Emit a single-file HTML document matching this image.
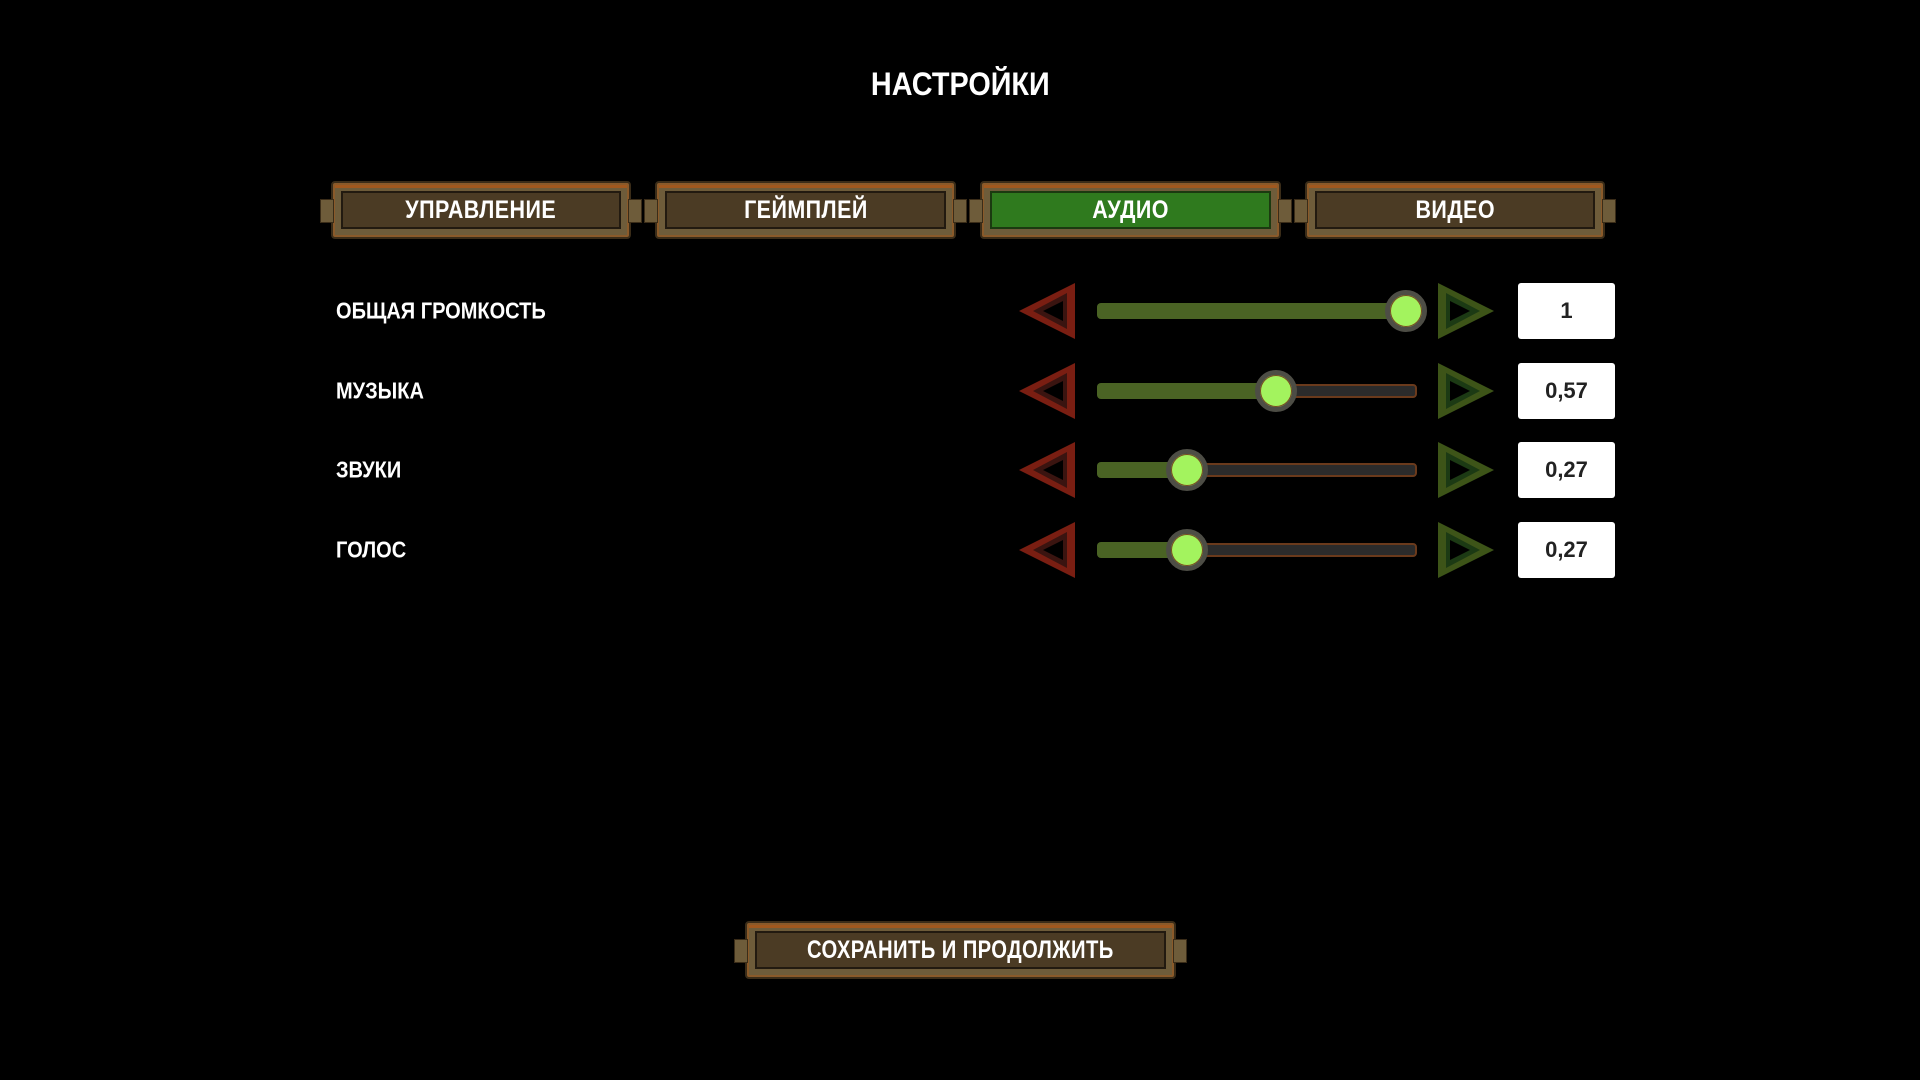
<!DOCTYPE html>
<html><head><meta charset="utf-8"><style>
body{margin:0;width:1920px;height:1080px;background:#000;position:relative;overflow:hidden;font-family:"Liberation Sans Narrow","Liberation Sans","DejaVu Sans Condensed",sans-serif;font-weight:bold;color:#fff}
.a{position:absolute}
.s{display:inline-block;transform:scaleX(0.86)}
.btn{position:absolute;box-sizing:border-box;background:#6e5c3a;border:2px solid #3a2c18;border-radius:4px;box-shadow:inset 0 0 0 2px #8a5a2a,inset 0 3px 0 2px #a0581e}
.btn .in{position:absolute;left:8px;right:8px;top:8px;bottom:8px;background:#4b3b24;border:2px solid #221a10;display:flex;align-items:center;justify-content:center;font-size:25px;letter-spacing:0.5px}
.nub{position:absolute;width:12px;height:22px;background:#6e5c3a;border:1px solid #3a2c18;top:50%;margin-top:-11px}
.nl{left:-13px}.nr{right:-13px}
.lbl{position:absolute;left:336px;font-size:23px;transform:translateY(-50%) scaleX(0.87);transform-origin:left center}
.track{position:absolute;left:1097px;width:320px;height:14px;margin-top:-7px;background:#2b2b2b;border:2px solid #6a3a1c;border-radius:4px;box-sizing:border-box}
.fill{position:absolute;left:1097px;height:16px;margin-top:-8px;background:#4a6324;border-radius:4px}
.knob{position:absolute;width:32px;height:32px;margin:-21px 0 0 -21px;border-radius:50%;background:#a3f35e;border:5px solid #4d4d45;box-shadow:inset 0 0 0 1px #7a4a20}
.val{position:absolute;left:1518px;width:97px;height:56px;margin-top:-28px;background:#fff;border-radius:3px;color:#222;font-size:22px;display:flex;align-items:center;justify-content:center}
svg.ar{position:absolute}
</style></head><body>
<div class="a" style="left:0;width:1920px;top:66px;text-align:center;font-size:32px"><span class="s" style="transform:scaleX(0.9)">НАСТРОЙКИ</span></div>

<div class="btn" style="left:331px;top:181px;width:300px;height:58px"><div class="nub nl"></div><div class="nub nr"></div><div class="in"><span class="s">УПРАВЛЕНИЕ</span></div></div>
<div class="btn" style="left:655px;top:181px;width:301px;height:58px"><div class="nub nl"></div><div class="nub nr"></div><div class="in"><span class="s">ГЕЙМПЛЕЙ</span></div></div>
<div class="btn" style="left:980px;top:181px;width:301px;height:58px"><div class="nub nl"></div><div class="nub nr"></div><div class="in" style="background:#2f7a1e;border-color:#1b3a10"><span class="s">АУДИО</span></div></div>
<div class="btn" style="left:1305px;top:181px;width:300px;height:58px"><div class="nub nl"></div><div class="nub nr"></div><div class="in"><span class="s">ВИДЕО</span></div></div>

<div class="lbl" style="top:311px">ОБЩАЯ ГРОМКОСТЬ</div>
<div class="lbl" style="top:391px">МУЗЫКА</div>
<div class="lbl" style="top:470px">ЗВУКИ</div>
<div class="lbl" style="top:550px">ГОЛОС</div>

<div class="track" style="top:311px"></div><div class="fill" style="top:311px;width:320px"></div><div class="knob" style="left:1406px;top:311px"></div>
<div class="track" style="top:391px"></div><div class="fill" style="top:391px;width:180px"></div><div class="knob" style="left:1276px;top:391px"></div>
<div class="track" style="top:470px"></div><div class="fill" style="top:470px;width:90px"></div><div class="knob" style="left:1187px;top:470px"></div>
<div class="track" style="top:550px"></div><div class="fill" style="top:550px;width:90px"></div><div class="knob" style="left:1187px;top:550px"></div>

<div class="val" style="top:311px">1</div>
<div class="val" style="top:391px">0,57</div>
<div class="val" style="top:470px">0,27</div>
<div class="val" style="top:550px">0,27</div>

<svg class="ar" style="left:0;top:0" width="1920" height="1080">
<defs>
<g id="L"><polygon points="0,0 56,-28 56,28" fill="#7a1e12"/><polygon points="14,0 48,-18 48,18" fill="#3a1410"/><polygon points="24,0 44,-10 44,10" fill="#000"/></g>
<g id="R"><polygon points="56,0 0,-28 0,28" fill="#3d5418"/><polygon points="42,0 8,-18 8,18" fill="#1c3a14"/><polygon points="32,0 12,-10 12,10" fill="#000"/></g>
</defs>
<use href="#L" x="1019" y="311"/><use href="#R" x="1438" y="311"/>
<use href="#L" x="1019" y="391"/><use href="#R" x="1438" y="391"/>
<use href="#L" x="1019" y="470"/><use href="#R" x="1438" y="470"/>
<use href="#L" x="1019" y="550"/><use href="#R" x="1438" y="550"/>
</svg>

<div class="btn" style="left:745px;top:921px;width:431px;height:58px"><div class="nub nl"></div><div class="nub nr"></div><div class="in"><span class="s" style="transform:scaleX(0.81)">СОХРАНИТЬ И ПРОДОЛЖИТЬ</span></div></div>
</body></html>
